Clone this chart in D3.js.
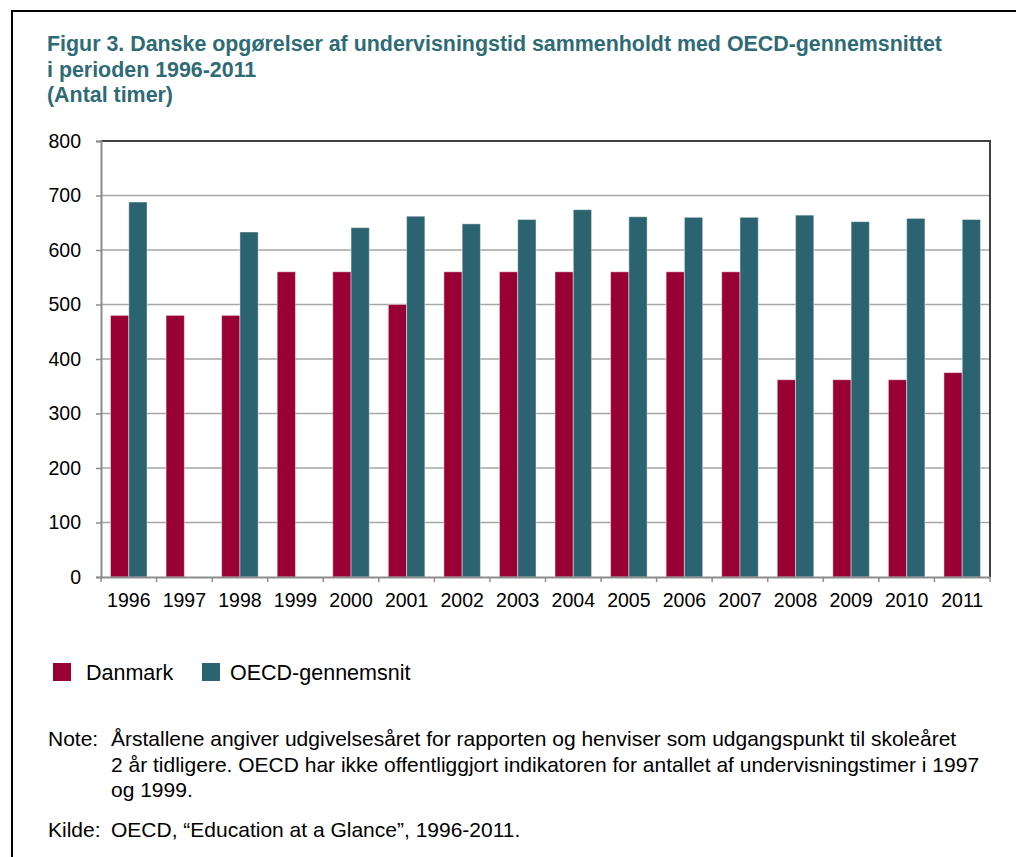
<!DOCTYPE html>
<html>
<head>
<meta charset="utf-8">
<script src="https://cdn.jsdelivr.net/npm/d3@7"></script>
<style>
  body { margin: 0; background: #fff; }
  text { font-family: "Liberation Sans", Arial, sans-serif; }
</style>
</head>
<body>
<svg width="1016" height="857"></svg>
<script>
// Data
let years = ["1996", "1997", "1998", "1999", "2000", "2001", "2002", "2003",
             "2004", "2005", "2006", "2007", "2008", "2009", "2010", "2011"];
let danmark = [480, 480, 480, 560, 560, 500, 560, 560, 560, 560, 560, 560, 362, 362, 362, 375];
let oecd = [688, null, 633, null, 641, 662, 648, 656, 674, 661, 660, 660, 664, 652, 658, 656];
let seriesNames = ["Danmark", "OECD-gennemsnit"];
let seriesColors = ["#990033", "#2b6470"];
let yTicks = [0, 100, 200, 300, 400, 500, 600, 700, 800];

let titleLines = [
  "Figur 3. Danske opgørelser af undervisningstid sammenholdt med OECD-gennemsnittet",
  "i perioden 1996-2011",
  "(Antal timer)"
];
let noteLines = [
  "Årstallene angiver udgivelsesåret for rapporten og henviser som udgangspunkt til skoleåret",
  "2 år tidligere. OECD har ikke offentliggjort indikatoren for antallet af undervisningstimer i 1997",
  "og 1999."
];
let sourceText = "OECD, “Education at a Glance”, 1996-2011.";

let svg = d3.select("svg");

// frame (left and top)
svg.append("path")
  .attr("d", "M12,857 V11 H1016")
  .attr("fill", "none")
  .attr("stroke", "#000")
  .attr("stroke-width", 2);

// title
svg.append("g")
  .selectAll("text")
  .data(titleLines)
  .enter()
  .append("text")
  .attr("x", 47)
  .attr("y", (d, i) => 51 + i * 25.5)
  .attr("fill", "#2e6b75")
  .attr("font-weight", "bold")
  .attr("font-size", 21.4)
  .text(d => d);

// plot area
let plotLeft = 101, plotRight = 990, plotTop = 141, plotBottom = 577;

let x = d3.scaleBand().domain(years).range([plotLeft, plotRight]);
let x1 = d3.scaleBand().domain(seriesNames).range([0, x.bandwidth()]).paddingOuter(0.52);
let y = d3.scaleLinear().domain([0, 800]).range([plotBottom, plotTop]);

let rows = years.map((yr, i) => ({ year: yr, values: [danmark[i], oecd[i]] }));

// gridlines
svg.append("g")
  .selectAll("line")
  .data(yTicks.filter(d => d > 0 && d < 800))
  .enter()
  .append("line")
  .attr("x1", plotLeft)
  .attr("x2", plotRight)
  .attr("y1", d => y(d))
  .attr("y2", d => y(d))
  .attr("stroke", "#a6a6a6")
  .attr("stroke-width", 1.5);

// top and right border of the plot
svg.append("path")
  .attr("d", `M${plotLeft},${y(800)} H${plotRight} V${plotBottom}`)
  .attr("fill", "none")
  .attr("stroke", "#404040")
  .attr("stroke-width", 2);

// bars
let groups = svg.append("g")
  .selectAll("g")
  .data(rows)
  .enter()
  .append("g")
  .attr("transform", d => `translate(${x(d.year)},0)`);

groups.selectAll("rect")
  .data(d => d.values.map((v, j) => ({ key: seriesNames[j], value: v, color: seriesColors[j] }))
    .filter(d => d.value != null))
  .enter()
  .append("rect")
  .attr("x", d => x1(d.key))
  .attr("width", x1.bandwidth())
  .attr("y", d => y(d.value))
  .attr("height", d => y(0) - y(d.value))
  .attr("fill", d => d.color)
  .attr("stroke", "rgba(255,255,255,0.45)")
  .attr("stroke-width", 1);

// y axis
let yAxis = svg.append("g")
  .attr("transform", `translate(${plotLeft},0)`)
  .call(d3.axisLeft(y).tickValues(yTicks).tickSize(5).tickPadding(15));
yAxis.select(".domain").attr("stroke", "#8c8c8c").attr("stroke-width", 2);
yAxis.selectAll(".tick line").attr("stroke", "#8c8c8c").attr("stroke-width", 1.5);
yAxis.selectAll("text")
  .attr("font-size", 19.5)
  .attr("fill", "#000")
  .style("font-family", "Liberation Sans, Arial, sans-serif");

// x axis, ticks on band boundaries
let xAxis = svg.append("g")
  .attr("transform", `translate(0,${plotBottom})`)
  .call(d3.axisBottom(x).tickSize(0).tickPadding(16));
xAxis.select(".domain").attr("stroke", "#8c8c8c").attr("stroke-width", 2);
xAxis.selectAll("text")
  .attr("font-size", 19.5)
  .attr("fill", "#000")
  .style("font-family", "Liberation Sans, Arial, sans-serif");
xAxis.append("g")
  .selectAll("line")
  .data(years.concat(["end"]))
  .enter()
  .append("line")
  .attr("x1", (d, i) => i < years.length ? x(d) : plotRight)
  .attr("x2", (d, i) => i < years.length ? x(d) : plotRight)
  .attr("y1", 0)
  .attr("y2", 5)
  .attr("stroke", "#8c8c8c")
  .attr("stroke-width", 1.5);

// legend
let legendX = [53, 202];
let legendTextX = [86, 230];
let legend = svg.append("g")
  .selectAll("g")
  .data(seriesNames)
  .enter()
  .append("g");
legend.append("rect")
  .attr("x", (d, i) => legendX[i])
  .attr("y", 663)
  .attr("width", 18)
  .attr("height", 18)
  .attr("fill", (d, i) => seriesColors[i]);
legend.append("text")
  .attr("x", (d, i) => legendTextX[i])
  .attr("y", 680)
  .attr("font-size", 21.5)
  .attr("fill", "#000")
  .text(d => d);

// note and source
let noteSize = 21;
svg.append("text")
  .attr("x", 48).attr("y", 746)
  .attr("font-size", noteSize)
  .text("Note:");
svg.append("g")
  .selectAll("text")
  .data(noteLines)
  .enter()
  .append("text")
  .attr("x", 111)
  .attr("y", (d, i) => 746 + i * 25.7)
  .attr("font-size", noteSize)
  .text(d => d);
svg.append("text")
  .attr("x", 48).attr("y", 837)
  .attr("font-size", noteSize)
  .text("Kilde:");
svg.append("text")
  .attr("x", 111).attr("y", 837)
  .attr("font-size", noteSize)
  .text(sourceText);
</script>
</body>
</html>
